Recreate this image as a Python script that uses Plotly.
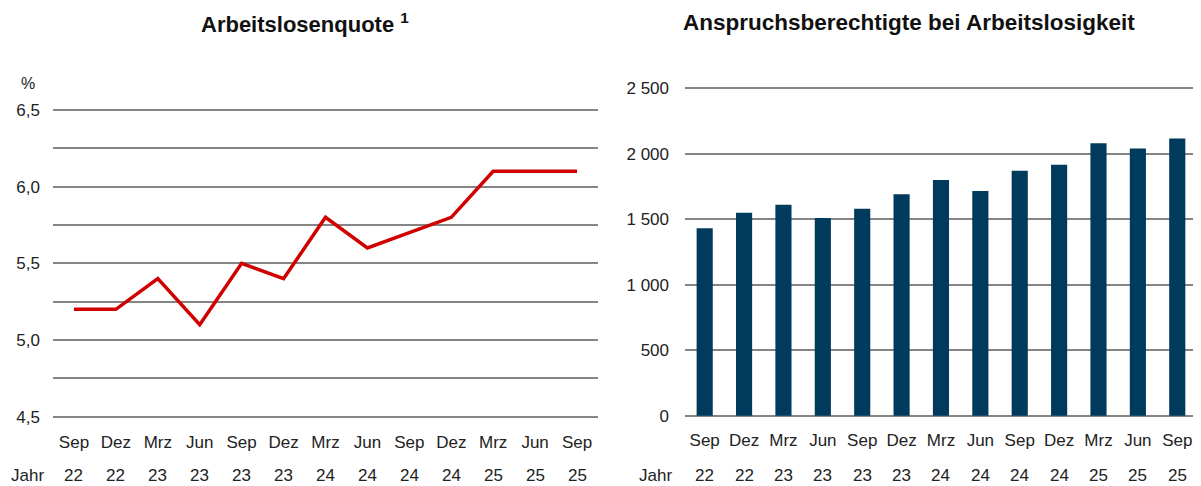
import plotly.graph_objects as go

months = ["Sep", "Dez", "Mrz", "Jun", "Sep", "Dez", "Mrz", "Jun", "Sep", "Dez", "Mrz", "Jun", "Sep"]
years = ["22", "22", "23", "23", "23", "23", "24", "24", "24", "24", "25", "25", "25"]
quote = [5.2, 5.2, 5.4, 5.1, 5.5, 5.4, 5.8, 5.6, 5.7, 5.8, 6.1, 6.1, 6.1]
berechtigte = [1430, 1550, 1610, 1510, 1580, 1690, 1800, 1715, 1870, 1915, 2080, 2040, 2115]

left_ticks = [4.5, 4.75, 5.0, 5.25, 5.5, 5.75, 6.0, 6.25, 6.5]
left_labels = ["4,5", "", "5,0", "", "5,5", "", "6,0", "", "6,5"]
right_ticks = [0, 500, 1000, 1500, 2000, 2500]
right_labels = ["0", "500", "1 000", "1 500", "2 000", "2 500"]

idx = list(range(len(months)))
FONT = "Liberation Sans"
TXT = "#222222"
GRID = "#858585"
TS = 17

fig = go.Figure()
fig.add_trace(go.Scatter(x=idx, y=quote, mode="lines",
                         line=dict(color="#d10000", width=3.5),
                         xaxis="x", yaxis="y", showlegend=False))
fig.add_trace(go.Bar(x=idx, y=berechtigte, marker=dict(color="#003a5c", line=dict(width=0)),
                     width=0.41, xaxis="x2", yaxis="y2", showlegend=False))

OFF = 8  # page body margin
W, H = 1201 - OFF, 486 - OFF
def px_x(p):
    return (p - OFF) / W
def px_y(p):
    return (H - (p - OFF)) / H

xcommon = dict(tickmode="array", tickvals=idx, ticktext=months,
               showgrid=False, zeroline=False, showline=False, ticks="",
               ticklabelstandoff=6,
               tickfont=dict(family=FONT, size=TS, color=TXT), fixedrange=True)

fig.update_layout(
    width=W, height=H, margin=dict(l=0, r=0, t=0, b=0),
    paper_bgcolor="white", plot_bgcolor="white",
    font=dict(family=FONT, color=TXT),
    xaxis=dict(domain=[px_x(53), px_x(598)], anchor="y", range=[-0.5, 12.5], **xcommon),
    yaxis=dict(domain=[px_y(426.75), px_y(101.25)], range=[4.45, 6.55], anchor="x",
               tickmode="array", tickvals=left_ticks, ticktext=left_labels,
               showgrid=True, gridcolor=GRID, gridwidth=2, zeroline=False, showline=False,
               ticks="", ticklabelstandoff=12,
               tickfont=dict(family=FONT, size=TS, color=TXT)),
    xaxis2=dict(domain=[px_x(685), px_x(1193)], anchor="y2", range=[-0.5, 12.4], **xcommon),
    yaxis2=dict(domain=[px_y(424.6), px_y(80.4)], range=[-50, 2550], anchor="x2",
                tickmode="array", tickvals=right_ticks, ticktext=right_labels,
                showgrid=True, gridcolor=GRID, gridwidth=2, zeroline=False, showline=False,
                ticks="", ticklabelstandoff=15,
                tickfont=dict(family=FONT, size=TS, color=TXT)),
)

ann = []
for i, yv in enumerate(years):
    ann.append(dict(x=i, y=px_y(478), xref="x", yref="paper", text=yv, showarrow=False,
                    font=dict(family=FONT, size=TS, color=TXT), yanchor="middle"))
    ann.append(dict(x=i, y=px_y(478), xref="x2", yref="paper", text=yv, showarrow=False,
                    font=dict(family=FONT, size=TS, color=TXT), yanchor="middle"))
ann.append(dict(x=px_x(27), y=px_y(478), xref="paper", yref="paper", text="Jahr", showarrow=False,
                font=dict(family=FONT, size=TS, color=TXT), yanchor="middle", xanchor="center"))
ann.append(dict(x=px_x(655), y=px_y(478), xref="paper", yref="paper", text="Jahr", showarrow=False,
                font=dict(family=FONT, size=TS, color=TXT), yanchor="middle", xanchor="center"))
ann.append(dict(x=px_x(28), y=px_y(82), xref="paper", yref="paper", text="%", showarrow=False,
                font=dict(family=FONT, size=16, color=TXT), yanchor="middle", xanchor="center"))
ann.append(dict(x=px_x(305), y=px_y(21), xref="paper", yref="paper",
                text="<b>Arbeitslosenquote <sup>1</sup></b>", showarrow=False,
                font=dict(family=FONT, size=22, color="#111111"), yanchor="middle", xanchor="center"))
ann.append(dict(x=px_x(909), y=px_y(21), xref="paper", yref="paper",
                text="<b>Anspruchsberechtigte bei Arbeitslosigkeit</b>", showarrow=False,
                font=dict(family=FONT, size=22.5, color="#111111"), yanchor="middle", xanchor="center"))
fig.update_layout(annotations=ann)

fig.write_html("out.html")
